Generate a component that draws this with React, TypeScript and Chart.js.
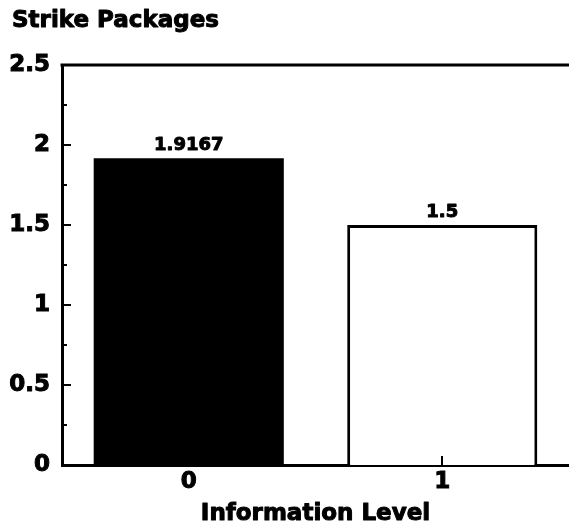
import React, { useEffect, useRef } from "react";
import { Chart, registerables } from "chart.js";

Chart.register(...registerables);

const chartTitle = "Strike Packages";
const xAxisTitle = "Information Level";
const categories = ["0", "1"];
const values = [1.9167, 1.5];
const valueLabels = ["1.9167", "1.5"];
const barFills = ["#000000", "#ffffff"];
const barBorders = [0, 3];
const yTickValues = [0, 0.5, 1, 1.5, 2, 2.5];
const yTickLabels = ["0", "0.5", "1", "1.5", "2", "2.5"];
const yMin = 0;
const yMax = 2.5;
const yStep = 0.5;
const yMinorStep = 0.25;

const FONT = "'DejaVu Sans', 'Liberation Sans', Arial, sans-serif";

function heavyText(ctx: any, text: string, x: number, y: number) {
  ctx.lineWidth = 1;
  ctx.strokeStyle = "#000";
  ctx.lineJoin = "round";
  ctx.strokeText(text, x, y);
  ctx.fillText(text, x, y);
}

const decorPlugin = {
  id: "decor",
  afterDraw(chart: any) {
    const { ctx, chartArea, scales } = chart;
    const y = scales.y;
    const x = scales.x;
    ctx.save();
    // top frame line
    ctx.strokeStyle = "#000";
    ctx.lineWidth = 3;
    ctx.beginPath();
    ctx.moveTo(chartArea.left - 1.5, chartArea.top);
    ctx.lineTo(chartArea.right, chartArea.top);
    ctx.stroke();
    // inward y ticks
    ctx.lineWidth = 2;
    const n = Math.round((yMax - yMin) / yMinorStep);
    for (let i = 1; i < n; i++) {
      const v = yMin + i * yMinorStep;
      const py = Math.round(y.getPixelForValue(v));
      const major = Math.abs(v / yStep - Math.round(v / yStep)) < 1e-6;
      const len = major ? 9 : 5;
      ctx.beginPath();
      ctx.moveTo(chartArea.left, py);
      ctx.lineTo(chartArea.left + len, py);
      ctx.stroke();
    }
    // inward x ticks
    categories.forEach((_, i) => {
      const px = Math.round(x.getPixelForValue(i));
      ctx.beginPath();
      ctx.moveTo(px, chartArea.bottom);
      ctx.lineTo(px, chartArea.bottom - 9);
      ctx.stroke();
    });
    // value labels
    const meta = chart.getDatasetMeta(0);
    ctx.fillStyle = "#000";
    ctx.font = `bold 18px ${FONT}`;
    ctx.textAlign = "center";
    ctx.textBaseline = "alphabetic";
    meta.data.forEach((bar: any, i: number) => {
      heavyText(ctx, valueLabels[i], bar.x, bar.y - 8);
    });
    // x axis title
    ctx.font = `bold 23px ${FONT}`;
    heavyText(ctx, xAxisTitle, (chartArea.left + chartArea.right) / 2, 520);
    // chart title
    ctx.textAlign = "left";
    heavyText(ctx, chartTitle, 12, 27);
    ctx.restore();
  },
};

export default function App() {
  const ref = useRef<HTMLCanvasElement>(null);
  useEffect(() => {
    if (!ref.current) return;
    const chart = new Chart(ref.current, {
      type: "bar",
      data: {
        labels: categories,
        datasets: [
          {
            data: values,
            backgroundColor: barFills,
            borderColor: "#000",
            borderWidth: barBorders,
            barPercentage: 0.75,
            categoryPercentage: 1,
          },
        ],
      },
      options: {
        responsive: false,
        animation: false,
        layout: { padding: { top: 65, right: 0, left: 0, bottom: 0 } },
        plugins: {
          legend: { display: false },
          title: { display: false },
          tooltip: { enabled: false },
        },
        scales: {
          x: {
            grid: { display: false, drawTicks: false },
            border: { display: true, color: "#000", width: 3 },
            ticks: {
              color: "#000",
              padding: 3,
              textStrokeColor: "#000",
              textStrokeWidth: 1,
              font: { family: FONT, size: 23, weight: "bold" },
            },
            afterFit(scale: any) {
              scale.height = 64;
            },
          },
          y: {
            min: yMin,
            max: yMax,
            grid: { display: false, drawTicks: false },
            border: { display: true, color: "#000", width: 3 },
            afterBuildTicks(scale: any) {
              scale.ticks = yTickValues.map((v) => ({ value: v }));
            },
            ticks: {
              color: "#000",
              padding: 12,
              textStrokeColor: "#000",
              textStrokeWidth: 1,
              font: { family: FONT, size: 23, weight: "bold" },
              callback: (v: any) => {
                const i = yTickValues.indexOf(Number(v));
                return i >= 0 ? yTickLabels[i] : "";
              },
            },
            afterFit(scale: any) {
              scale.width = 62;
            },
          },
        },
      },
      plugins: [decorPlugin],
    });
    return () => chart.destroy();
  }, []);
  return (
    <div style={{ position: "absolute", left: 0, top: 0, width: 569, height: 529, background: "#fff" }}>
      <canvas ref={ref} width={569} height={529} />
    </div>
  );
}
